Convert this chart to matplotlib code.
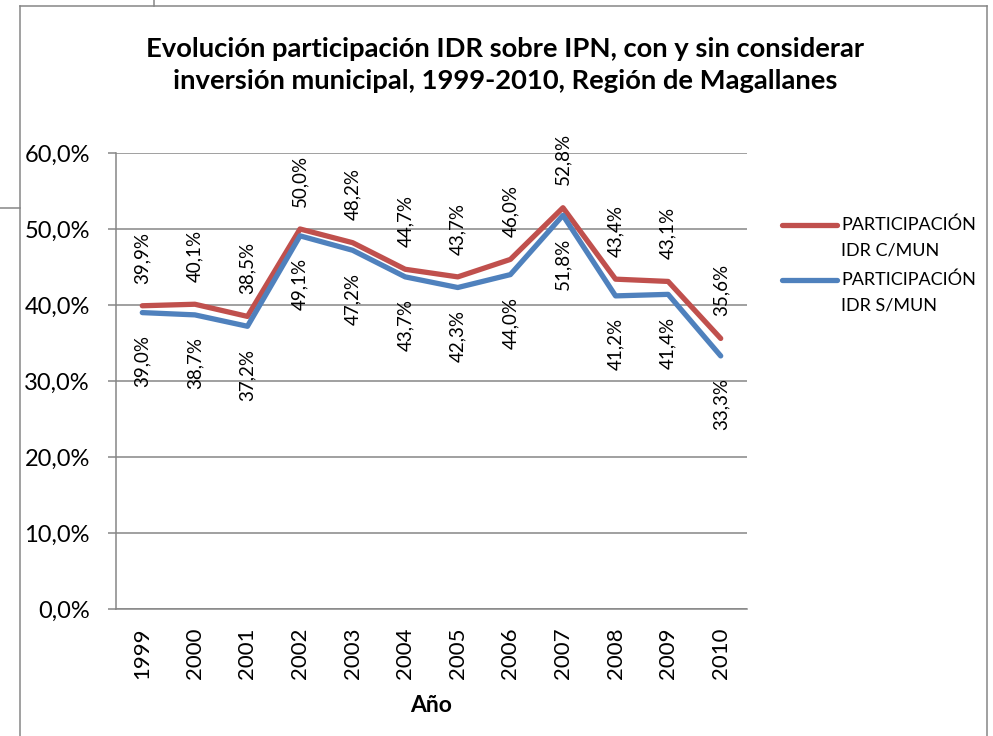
import matplotlib
matplotlib.use("Agg")
import matplotlib.pyplot as plt
from matplotlib.lines import Line2D
from matplotlib.ticker import FuncFormatter, MultipleLocator

# Data: share of IDR over IPN (%), with and without municipal investment
years = ["1999", "2000", "2001", "2002", "2003", "2004",
         "2005", "2006", "2007", "2008", "2009", "2010"]
idr_c_mun = [39.9, 40.1, 38.5, 50.0, 48.2, 44.7, 43.7, 46.0, 52.8, 43.4, 43.1, 35.6]
idr_s_mun = [39.0, 38.7, 37.2, 49.1, 47.2, 43.7, 42.3, 44.0, 51.8, 41.2, 41.4, 33.3]
series_labels = ["PARTICIPACIÓN\nIDR C/MUN", "PARTICIPACIÓN\nIDR S/MUN"]

title = ("Evolución participación IDR sobre IPN, con y sin considerar\n"
         "inversión municipal, 1999-2010, Región de Magallanes")
x_title = "Año"

RED = "#C0504D"
BLUE = "#4F81BD"
GRAY = "#868686"

plt.rcParams["font.family"] = ["Lato", "DejaVu Sans"]

W, H = 993, 736
fig = plt.figure(figsize=(W / 100, H / 100), dpi=100)


def fx(px):
    return px / W


def fy(py):
    return 1 - py / H


# plot area in pixel coordinates
left, right, top, bottom = 116, 747, 153, 609
ax = fig.add_axes([fx(left), fy(bottom), fx(right) - fx(left), fy(top) - fy(bottom)])

xs = list(range(len(years)))
ax.plot(xs, idr_c_mun, color=RED, lw=3.8, solid_joinstyle="round",
        solid_capstyle="round", zorder=3)
ax.plot(xs, idr_s_mun, color=BLUE, lw=3.8, solid_joinstyle="round",
        solid_capstyle="round", zorder=3)

for x, v in zip(xs, idr_c_mun):
    ax.annotate(f"{v:.1f}%".replace(".", ","), (x, v), xytext=(0, 16),
                textcoords="offset points", rotation=90, ha="center",
                va="bottom", fontsize=13.5, color="black", zorder=4)
for x, v in zip(xs, idr_s_mun):
    ax.annotate(f"{v:.1f}%".replace(".", ","), (x, v), xytext=(0, -16),
                textcoords="offset points", rotation=90, ha="center",
                va="top", fontsize=13.5, color="black", zorder=4)

ax.set_xlim(-0.5, len(years) - 0.5)
ax.set_ylim(0, 60)
ax.yaxis.set_major_locator(MultipleLocator(10))
ax.yaxis.set_major_formatter(FuncFormatter(lambda v, p: f"{v:.1f}%".replace(".", ",")))
ax.set_xticks(xs)
ax.set_xticklabels(years, rotation=90)

ax.grid(axis="y", color=GRAY, lw=1.1, zorder=0)
ax.set_axisbelow(True)
for s in ("top", "right"):
    ax.spines[s].set_visible(False)
for s in ("left", "bottom"):
    ax.spines[s].set_color(GRAY)
    ax.spines[s].set_linewidth(1.1)

ax.tick_params(axis="y", length=5.8, width=1.1, color=GRAY, pad=13, labelsize=17)
ax.tick_params(axis="x", length=0, pad=13, labelsize=16)
ax.set_xlabel(x_title, fontsize=16.5, fontweight="bold", labelpad=12)

fig.text(fx(505), fy(65), title, ha="center", va="center", fontsize=19.7,
         fontweight="bold", linespacing=1.4)

# legend entries drawn at the right of the plot area
leg_rows = [(225, RED, series_labels[0]), (280, BLUE, series_labels[1])]
for yp, col, lab in leg_rows:
    fig.add_artist(Line2D([fx(782), fx(837)], [fy(yp), fy(yp)], color=col,
                          lw=3.8, solid_capstyle="round",
                          transform=fig.transFigure))
    for i, line in enumerate(lab.split("\n")):
        fig.text(fx(841), fy(yp + i * 25.5), line, ha="left", va="center",
                 fontsize=13)

# chart frame
frame = dict(color=GRAY, lw=1.1, transform=fig.transFigure)
fig.add_artist(Line2D([fx(20), fx(987)], [fy(6), fy(6)], **frame))
fig.add_artist(Line2D([fx(20), fx(20)], [fy(6), fy(736)], **frame))
fig.add_artist(Line2D([fx(987), fx(987)], [fy(6), fy(736)], **frame))
fig.add_artist(Line2D([fx(154), fx(154)], [fy(0), fy(6)], **frame))
fig.add_artist(Line2D([fx(0), fx(20)], [fy(208), fy(208)], **frame))

fig.savefig("out.png", dpi=100)
